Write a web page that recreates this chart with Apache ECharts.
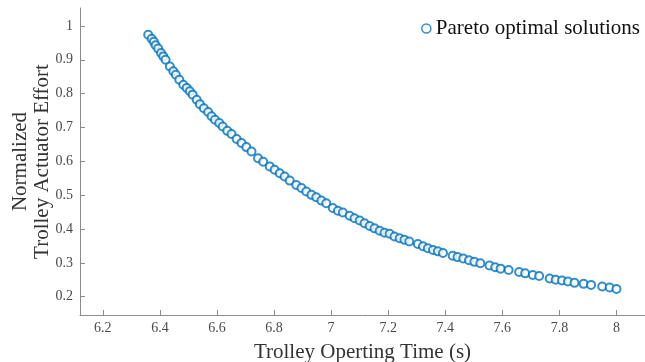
<!DOCTYPE html>
<html>
<head>
<meta charset="utf-8">
<script src="https://cdn.jsdelivr.net/npm/echarts@6/dist/echarts.min.js"></script>
<style>
  html, body { margin: 0; padding: 0; background: #fff; }
  #chart { width: 645px; height: 362px; }
</style>
</head>
<body>
<div id="chart"></div>
<script>
// operating time (s)
var timeVals = [
  6.359, 6.371, 6.379, 6.385, 6.394, 6.404, 6.412, 6.420, 6.435, 6.447,
  6.456, 6.468, 6.482, 6.494, 6.505, 6.515, 6.529, 6.540, 6.554, 6.569,
  6.581, 6.593, 6.608, 6.620, 6.636, 6.651, 6.669, 6.686, 6.703, 6.721,
  6.744, 6.762, 6.785, 6.802, 6.820, 6.837, 6.855, 6.878, 6.896, 6.913,
  6.931, 6.948, 6.966, 6.983, 7.006, 7.024, 7.041, 7.065, 7.082, 7.100,
  7.117, 7.135, 7.152, 7.170, 7.187, 7.205, 7.222, 7.240, 7.257, 7.274,
  7.304, 7.322, 7.339, 7.357, 7.374, 7.392, 7.426, 7.443, 7.463, 7.483,
  7.502, 7.523, 7.555, 7.575, 7.594, 7.622, 7.659, 7.680, 7.707, 7.729,
  7.766, 7.787, 7.809, 7.830, 7.853, 7.885, 7.911, 7.950, 7.976, 8.000
];
// normalized actuator effort
var effortVals = [
  0.974, 0.962, 0.953, 0.943, 0.933, 0.920, 0.910, 0.900, 0.880, 0.866,
  0.856, 0.841, 0.826, 0.817, 0.807, 0.797, 0.782, 0.769, 0.757, 0.746,
  0.733, 0.723, 0.713, 0.703, 0.690, 0.681, 0.666, 0.654, 0.642, 0.629,
  0.609, 0.599, 0.585, 0.575, 0.565, 0.555, 0.543, 0.530, 0.521, 0.511,
  0.501, 0.494, 0.484, 0.476, 0.462, 0.454, 0.449, 0.439, 0.432, 0.425,
  0.417, 0.409, 0.402, 0.395, 0.389, 0.386, 0.378, 0.373, 0.368, 0.363,
  0.356, 0.349, 0.343, 0.338, 0.334, 0.329, 0.321, 0.317, 0.313, 0.308,
  0.303, 0.299, 0.292, 0.287, 0.283, 0.279, 0.273, 0.269, 0.264, 0.261,
  0.254, 0.250, 0.248, 0.245, 0.241, 0.238, 0.235, 0.230, 0.227, 0.223
];
var xTicks = [6.2, 6.4, 6.6, 6.8, 7, 7.2, 7.4, 7.6, 7.8, 8];
var yTicks = [0.2, 0.3, 0.4, 0.5, 0.6, 0.7, 0.8, 0.9, 1];

var points = [];
for (var i = 0; i < timeVals.length; i++) {
  points.push([timeVals[i], effortVals[i]]);
}

var serif = '"Liberation Serif", "DejaVu Serif", serif';
var blue = '#0072BD';
var axisGray = '#8c8c8c';
var labelGray = '#4a4a4a';

var chart = echarts.init(document.getElementById('chart'));
var option = {
  animation: false,
  grid: { left: 80, right: 0, top: 8, bottom: 47, containLabel: false, outerBoundsMode: 'none' },
  legend: {
    data: [{
      name: 'Pareto optimal solutions',
      icon: 'circle',
      itemStyle: { color: '#fff', borderColor: blue, borderWidth: 1.5 }
    }],
    right: 0,
    top: 13,
    itemWidth: 9,
    itemHeight: 9,
    itemGap: 10,
    textStyle: { fontFamily: serif, fontSize: 21, color: '#111' }
  },
  xAxis: {
    type: 'value',
    min: 6.12,
    max: 8.1,
    name: 'Trolley Operting Time (s)',
    nameLocation: 'middle',
    nameGap: 27,
    nameTextStyle: { fontFamily: serif, fontSize: 21, color: '#333' },
    axisLine: { lineStyle: { color: axisGray, width: 1 } },
    axisTick: { inside: true, length: 5, customValues: xTicks, lineStyle: { color: axisGray } },
    axisLabel: { customValues: xTicks, fontFamily: serif, fontSize: 14, color: labelGray, margin: 6 },
    splitLine: { show: false }
  },
  yAxis: {
    type: 'value',
    min: 0.146,
    max: 1.053,
    name: 'Normalized\nTrolley Actuator Effort',
    nameLocation: 'middle',
    nameRotate: 90,
    nameGap: 27,
    nameMoveOverlap: false,
    nameTextStyle: { fontFamily: serif, fontSize: 21, color: '#333', lineHeight: 22 },
    axisLine: { show: true, lineStyle: { color: axisGray, width: 1 } },
    axisTick: { show: true, inside: true, length: 5, customValues: yTicks, lineStyle: { color: axisGray } },
    axisLabel: { customValues: yTicks, fontFamily: serif, fontSize: 14, color: labelGray, margin: 7 },
    splitLine: { show: false }
  },
  series: [{
    name: 'Pareto optimal solutions',
    type: 'scatter',
    symbol: 'emptyCircle',
    symbolSize: 8,
    itemStyle: { color: blue, borderColor: blue, borderWidth: 1.5 },
    data: points
  }]
};
chart.setOption(option);
</script>
</body>
</html>
